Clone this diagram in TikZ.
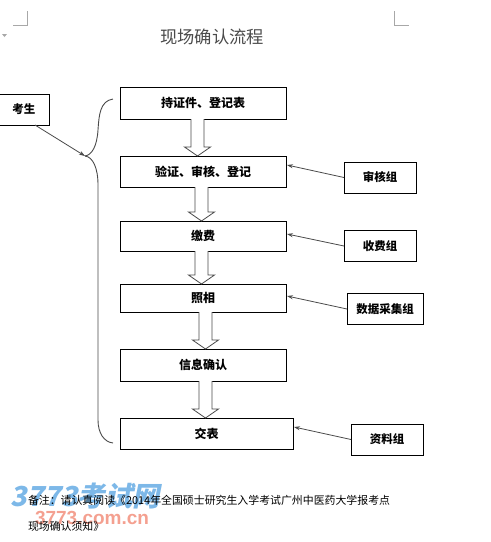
\documentclass[tikz,border=0pt]{standalone}
\usepackage{fontspec}
\usepackage{xcolor}
\setmainfont{Noto Sans CJK SC}
\newfontfamily\latinfont{Liberation Sans}
\usetikzlibrary{arrows.meta, positioning, calc}
\definecolor{markgray}{HTML}{A8A8A8}
\definecolor{linegray}{HTML}{4A4A4A}
\definecolor{markblue}{HTML}{7DB8E8}
\definecolor{marksalmon}{HTML}{F4A090}
\newcommand{\flowstep}[3]{%
  \draw[flowarrow] let \p1=(#2.south), \p2=(#3.north) in
    (#1-6.5,\y1) -- (#1-6.5,\y2+9pt) -- (#1-13,\y2+9pt) -- (#1,\y2)
    -- (#1+13,\y2+9pt) -- (#1+6.5,\y2+9pt) -- (#1+6.5,\y1);}

\begin{document}
\begin{tikzpicture}[
    x=1pt, y=-1pt,
    node distance=37pt,
    every node/.style={inner sep=0pt, outer sep=0pt},
    stepbox/.style={rectangle, draw=black, line width=0.9pt, fill=white,
                    minimum width=166pt, font=\fontsize{12}{14}\selectfont\bfseries},
    groupbox/.style={rectangle, draw=black, line width=0.9pt, fill=white,
                     minimum width=72pt, minimum height=31pt,
                     font=\fontsize{11.5}{14}\selectfont\bfseries},
    flowarrow/.style={draw=linegray, line width=0.8pt, fill=white},
    pointer/.style={-{Stealth[length=6pt,width=4pt]}, line width=0.8pt, color=linegray},
    brace/.style={line width=0.9pt, color=linegray},
    pagemark/.style={line width=0.7pt, color=markgray}
]
\useasboundingbox (0,0) rectangle (491,542);

\draw[pagemark] (27,11) -- (27,25) -- (13,25);
\draw[pagemark] (394,11) -- (394,25) -- (409,25);
\fill[markgray] (2,34) -- (7,34) -- (4.5,37) -- cycle;

\node (title) at (212,37) {\fontsize{17.3}{20}\selectfont\color{linegray}现场确认流程};

\node[stepbox, minimum height=32pt] (box1) at (203,103) {持证件、登记表};
\node[stepbox, minimum height=31pt, below=37pt of box1] (box2) {验证、审核、登记};
\node[stepbox, minimum height=30pt, below=34pt of box2] (box3) {缴费};
\node[stepbox, minimum height=28pt, below=33pt of box3] (box4) {照相};
\node[stepbox, minimum height=32pt, below=37pt of box4] (box5) {信息确认};
\node[stepbox, minimum height=31pt, minimum width=173pt, below=37pt of box5, xshift=3.5pt] (box6) {交表};

\flowstep{197.5}{box1}{box2}
\flowstep{201.5}{box2}{box3}
\flowstep{201.5}{box3}{box4}
\flowstep{205.5}{box4}{box5}
\flowstep{205.5}{box5}{box6}

\node[groupbox, right=58pt of box2, yshift=-6pt] (audit) {审核组};
\node[groupbox, right=58pt of box3, yshift=-10pt] (fee) {收费组};
\node[groupbox, minimum width=76pt, right=61pt of box4, yshift=-11pt] (data) {数据采集组};
\node[groupbox, right=58pt of box6, yshift=-6pt] (files) {资料组};
\node[groupbox, minimum width=50pt, anchor=north west] (student) at (-1,94) {考生};

\coordinate (tip) at (85,156);
\coordinate (bracetop) at (113,99);
\coordinate (bracebot) at (113,443);
\coordinate (studentout) at ($(student.south)+(11,0)$);

\draw[brace] (bracetop) .. controls (100,101) and (99,115) .. (98,130)
    .. controls (97,146) and (92,155) .. (tip);
\draw[brace] (tip) .. controls (93,157) and (98,168) .. (98,185)
    -- (98,420) .. controls (98,433) and (104,442) .. (bracebot);

\draw[pointer] (studentout) -- (tip);
\draw[pointer] (audit.west) -- ($(box2.north east)+(1,9)$);
\draw[pointer] (fee.west) -- ($(box3.north east)+(1,13)$);
\draw[pointer] (data.west) -- ($(box4.north east)+(1,12)$);
\draw[pointer] (files.west) -- ($(box6.north east)+(1,9)$);

\node[markblue, xslant=0.2, anchor=west] (markname) at (13,496)
    {\fontsize{27.5}{30}\selectfont\bfseries 3773考试网};
\node[marksalmon, anchor=west] (markurl) at (35,518)
    {\fontsize{19}{21}\selectfont\latinfont\bfseries 3773.com.cn};

\node[anchor=north west, align=left, font=\fontsize{10.9}{26}\selectfont] (note) at (28,495)
    {备注：请认真阅读《2014年全国硕士研究生入学考试广州中医药大学报考点\\现场确认须知》};

\end{tikzpicture}
\end{document}
